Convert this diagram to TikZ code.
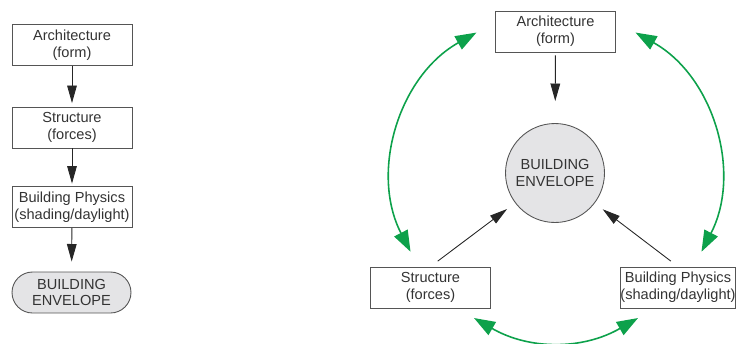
\documentclass[tikz,border=0pt]{standalone}
\usepackage{fontspec}
\setmainfont{Liberation Sans}
\usepackage{tikz}
\usetikzlibrary{arrows.meta, positioning, calc}
\definecolor{envgray}{HTML}{E4E4E6}
\definecolor{loopgreen}{HTML}{0DA14B}
\definecolor{linegray}{HTML}{555555}
\tikzset{
    box/.style={draw=linegray, line width=0.5pt, minimum width=2.4cm, minimum height=0.82cm, inner sep=0pt, align=center},
    hub/.style={draw=linegray, fill=envgray, line width=0.5pt, inner sep=0pt, align=center},
    flow/.style={-{Triangle[length=10pt, width=5.5pt]}, line width=0.5pt, draw=black!85},
    interplay/.style={{Triangle[length=12pt, width=8.5pt]}-{Triangle[length=12pt, width=8.5pt]}, line width=0.9pt, loopgreen},
    every node/.style={font=\fontsize{8.3pt}{9.6pt}\selectfont, text=black!80}
}

\begin{document}
\begin{tikzpicture}[x=0.02cm, y=0.02cm]
    \useasboundingbox (0,0) rectangle (736,343);
    % sequential chain
    \node[box] (arch1) at (72,298) {Architecture\\(form)};
    \node[box] (struct1) at (72,215.5) {Structure\\(forces)};
    \node[box] (phys1) at (72,136) {Building Physics\\(shading/daylight)};
    \node[hub, rounded corners=0.41cm, minimum width=2.38cm, minimum height=0.82cm] (env1) at (71.5,50.5) {BUILDING\\ENVELOPE};
    \draw[flow, shorten >=0.07cm] (arch1) -- (struct1);
    \draw[flow, shorten >=0.05cm] (struct1) -- (phys1);
    \draw[flow, shorten >=0.2cm] (phys1) -- (env1);
    % integrated scheme
    \node[box] (arch2) at (555.5,311.5) {Architecture\\(form)};
    \node[hub, circle, minimum size=1.98cm] (env2) at (555,170) {BUILDING\\ENVELOPE};
    \node[box] (struct2) at (430.5,55.5) {Structure\\(forces)};
    \node[box, minimum width=2.28cm] (phys2) at (678,55.5) {Building Physics\\(shading/daylight)};
    \draw[flow, shorten <=0.06cm, shorten >=0.44cm] (arch2) -- (env2);
    \draw[flow, shorten <=0.18cm, shorten >=0.2cm] (struct2.north) -- (env2);
    \draw[flow, shorten <=0.18cm, shorten >=0.2cm] (phys2.north) -- (env2);
    % interaction loop
    \coordinate (ring) at (556,167);
    \coordinate (la) at ($(ring)+(119:164)$);
    \coordinate (lb) at ($(ring)+(207.5:164)$);
    \coordinate (ra) at ($(ring)+(61:164)$);
    \coordinate (rb) at ($(ring)+(-27.5:164)$);
    \coordinate (ba) at ($(ring)+(240:164)$);
    \coordinate (bb) at ($(ring)+(300:164)$);
    \draw[interplay] (la) to[bend right=44] (lb);
    \draw[interplay] (ra) to[bend left=44] (rb);
    \draw[interplay] (ba) to[bend right=30] (bb);
\end{tikzpicture}
\end{document}
